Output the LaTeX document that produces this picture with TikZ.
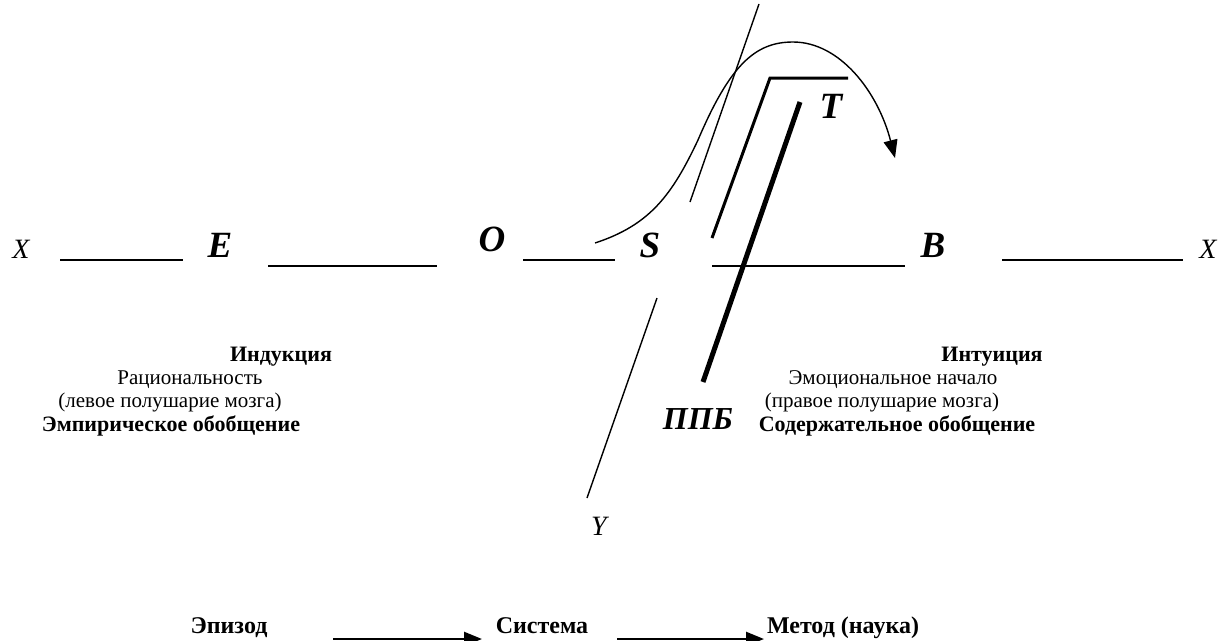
\documentclass[tikz,border=0pt]{standalone}
\usepackage{fontspec}
\setmainfont{Liberation Serif}
\usetikzlibrary{arrows.meta}
\tikzset{
  big/.style={inner sep=0pt,anchor=base,font=\fontsize{37}{37}\selectfont\bfseries\itshape},
  axis/.style={inner sep=0pt,anchor=base,font=\fontsize{28}{28}\selectfont\itshape},
  body/.style={inner sep=0pt,anchor=base,font=\fontsize{21}{21}\selectfont},
  bbody/.style={body,font=\fontsize{22}{22}\selectfont\bfseries},
  bottom/.style={body,font=\fontsize{24}{24}\selectfont\bfseries},
  hline/.style={line width=2.2pt},
  thin/.style={line width=1.4pt},
  mid/.style={line width=3pt},
  heavy/.style={line width=5pt},
  flow/.style={line width=2.5pt,-{Triangle[length=18pt,width=14pt]}}
}
\begin{document}
\begin{tikzpicture}[x=1pt,y=-1pt]
\useasboundingbox (0,0) rectangle (1221,640);
% axis labels and letters
\node[axis] (xl) at (21,258) {X};
\node[axis] (xr) at (1208,258) {X};
\node[big] (E) at (220,257) {E};
\node[big] (O) at (492,251) {O};
\node[big] (S) at (650,257) {S};
\node[big] (B) at (933,257) {B};
\node[big] (T) at (831,118) {T};
\node[big,font=\fontsize{32}{32}\selectfont\bfseries\itshape] (P) at (698,429) {ППБ};
\node[axis] (Y) at (599,535) {Y};
% horizontal segments
\coordinate (h1a) at (60,260);  \coordinate (h1b) at (183,260);
\coordinate (h2a) at (268,266); \coordinate (h2b) at (437,266);
\coordinate (h3a) at (523,260); \coordinate (h3b) at (615,260);
\coordinate (h4a) at (712,266); \coordinate (h4b) at (905,266);
\coordinate (h5a) at (1002,260); \coordinate (h5b) at (1183,260);
\draw[hline] (h1a) -- (h1b);
\draw[hline] (h2a) -- (h2b);
\draw[hline] (h3a) -- (h3b);
\draw[hline] (h4a) -- (h4b);
\draw[hline] (h5a) -- (h5b);
% thin slanted line (broken)
\coordinate (t1) at (759,4); \coordinate (t2) at (690,202);
\coordinate (t3) at (657,298); \coordinate (t4) at (587,498);
\draw[thin] (t1) -- (t2);
\draw[thin] (t3) -- (t4);
% bracket line
\coordinate (b1) at (712,238); \coordinate (b2) at (770,78); \coordinate (b3) at (848,78);
\draw[mid] (b1) -- (b2) -- (b3);
% heavy line
\coordinate (k1) at (800,102); \coordinate (k2) at (703,382);
\draw[heavy] (k1) -- (k2);
% curve with arrow
\coordinate (c0) at (595,243); \coordinate (c1) at (698,140);
\coordinate (c2) at (793,42); \coordinate (c3) at (895,158);
\draw[thin,-{Triangle[length=18pt,width=14pt]}] (c0) .. controls (650,225) and (672,195) .. (c1)
  .. controls (730,65) and (755,42) .. (c2) .. controls (840,42) and (878,92) .. (c3);
% left text block
\node[bbody] (ind) at (281,361) {Индукция};
\node[body] (rac) at (190,384) {Рациональность};
\node[body] (lev) at (170,407) {(левое полушарие мозга)};
\node[bbody] (emp) at (171,431) {Эмпирическое обобщение};
% right text block
\node[bbody] (int) at (992,361) {Интуиция};
\node[body] (emo) at (893,384) {Эмоциональное начало};
\node[body] (pra) at (882,407) {(правое полушарие мозга)};
\node[bbody] (sod) at (897,431) {Содержательное обобщение};
% bottom row
\node[bottom] (ep) at (229,633) {Эпизод};
\node[bottom] (sys) at (542,633) {Система};
\node[bottom] (met) at (843,633) {Метод (наука)};
\coordinate (a1) at (333,639); \coordinate (a2) at (482,639);
\coordinate (a3) at (617,639); \coordinate (a4) at (764,639);
\draw[flow] (a1) -- (a2);
\draw[flow] (a3) -- (a4);
\end{tikzpicture}
\end{document}
